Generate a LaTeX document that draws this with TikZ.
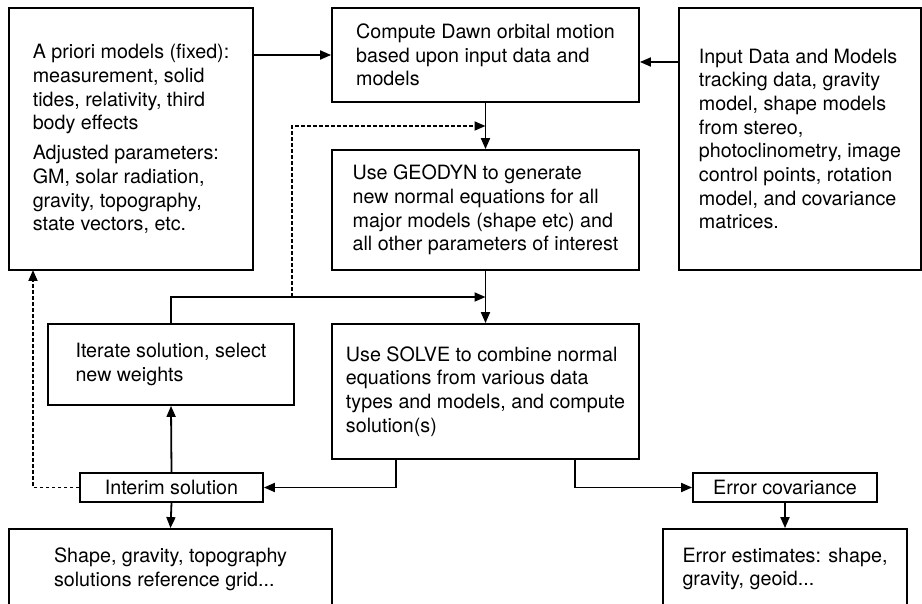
\documentclass[tikz,border=0pt]{standalone}
\usepackage{fontspec}
\setmainfont{TeX Gyre Heros}
\usetikzlibrary{arrows.meta}
\begin{document}
\begin{tikzpicture}[x=1pt,y=-1pt,
  box/.style={draw, line width=1.8pt, align=left, font=\fontsize{19.7}{23.7}\selectfont, inner sep=0pt},
  arr/.style={line width=1.8pt, -{Triangle[length=11pt,width=9pt]}},
  dsh/.style={line width=1.8pt, dash pattern=on 3.5pt off 2.5pt}]
\path[use as bounding box] (0,0) rectangle (922,604);
\clip (0,0) rectangle (922,604);
\node[box, minimum width=244, minimum height=262] (apriori) at (131,139)
  {A priori models (fixed):\\ measurement, solid\\ tides, relativity, third\\ body effects\\[6pt] Adjusted parameters:\\ GM, solar radiation,\\ gravity, topography,\\ state vectors, etc.};
\node[box, minimum width=307, minimum height=94] (compute) at (485.5,55)
  {Compute Dawn orbital motion\\ based upon input data and\\ models};
\node[box, minimum width=242, minimum height=262] (input) at (800,139)
  {Input Data and Models\\ tracking data, gravity\\ model, shape models\\ from stereo,\\ photoclinometry, image\\ control points, rotation\\ model, and covariance\\ matrices.};
\node[box, minimum width=307, minimum height=120] (geodyn) at (485.5,210)
  {Use GEODYN to generate\\ new normal equations for all\\ major models (shape etc) and\\ all other parameters of interest};
\node[box, minimum width=307, minimum height=135] (solve) at (485.5,391.5)
  {Use SOLVE to combine normal\\ equations from various data\\ types and models, and compute\\ solution(s)};
\node[box, minimum width=246, minimum height=81] (iterate) at (171,364.5)
  {Iterate solution, select\\ new weights};
\node[box, minimum width=183, minimum height=29] (interim) at (171.5,487.5)
  {Interim solution};
\node[box, minimum width=184, minimum height=29] (errcov) at (785,487.5)
  {Error covariance};
\node[box, minimum width=323, minimum height=80] (shape) at (170.5,569)
  {Shape, gravity, topography\\ solutions reference grid...};
\node[box, minimum width=244, minimum height=80] (errest) at (785,569)
  {Error estimates: shape,\\ gravity, geoid...};
\coordinate (j1) at (292,297);
\coordinate (j2) at (485.5,297);
\coordinate (d2) at (485.5,126);
\coordinate (ap) at (33,270);
\draw[arr] (apriori.east |- compute.west) -- (compute.west);
\draw[arr] (input.west |- 0,62) -- (compute.east |- 0,62);
\draw[arr] (compute.south) -- (geodyn.north);
\draw[arr] (geodyn.south) -- (solve.north);
\draw[arr] (iterate.north) |- (j2);
\draw[dsh, arr] (j1) |- (d2);
\draw[arr] (interim.north) -- (iterate.south);
\draw[arr] (interim.south) -- (shape.north);
\draw[arr] ([xshift=-89.5pt]solve.south) |- (interim.east);
\draw[arr] ([xshift=89.5pt]solve.south) |- (errcov.west);
\draw[arr] (errcov.south) -- (errest.north);
\draw[dsh, arr] (interim.west) -| (ap);
\end{tikzpicture}
\end{document}
